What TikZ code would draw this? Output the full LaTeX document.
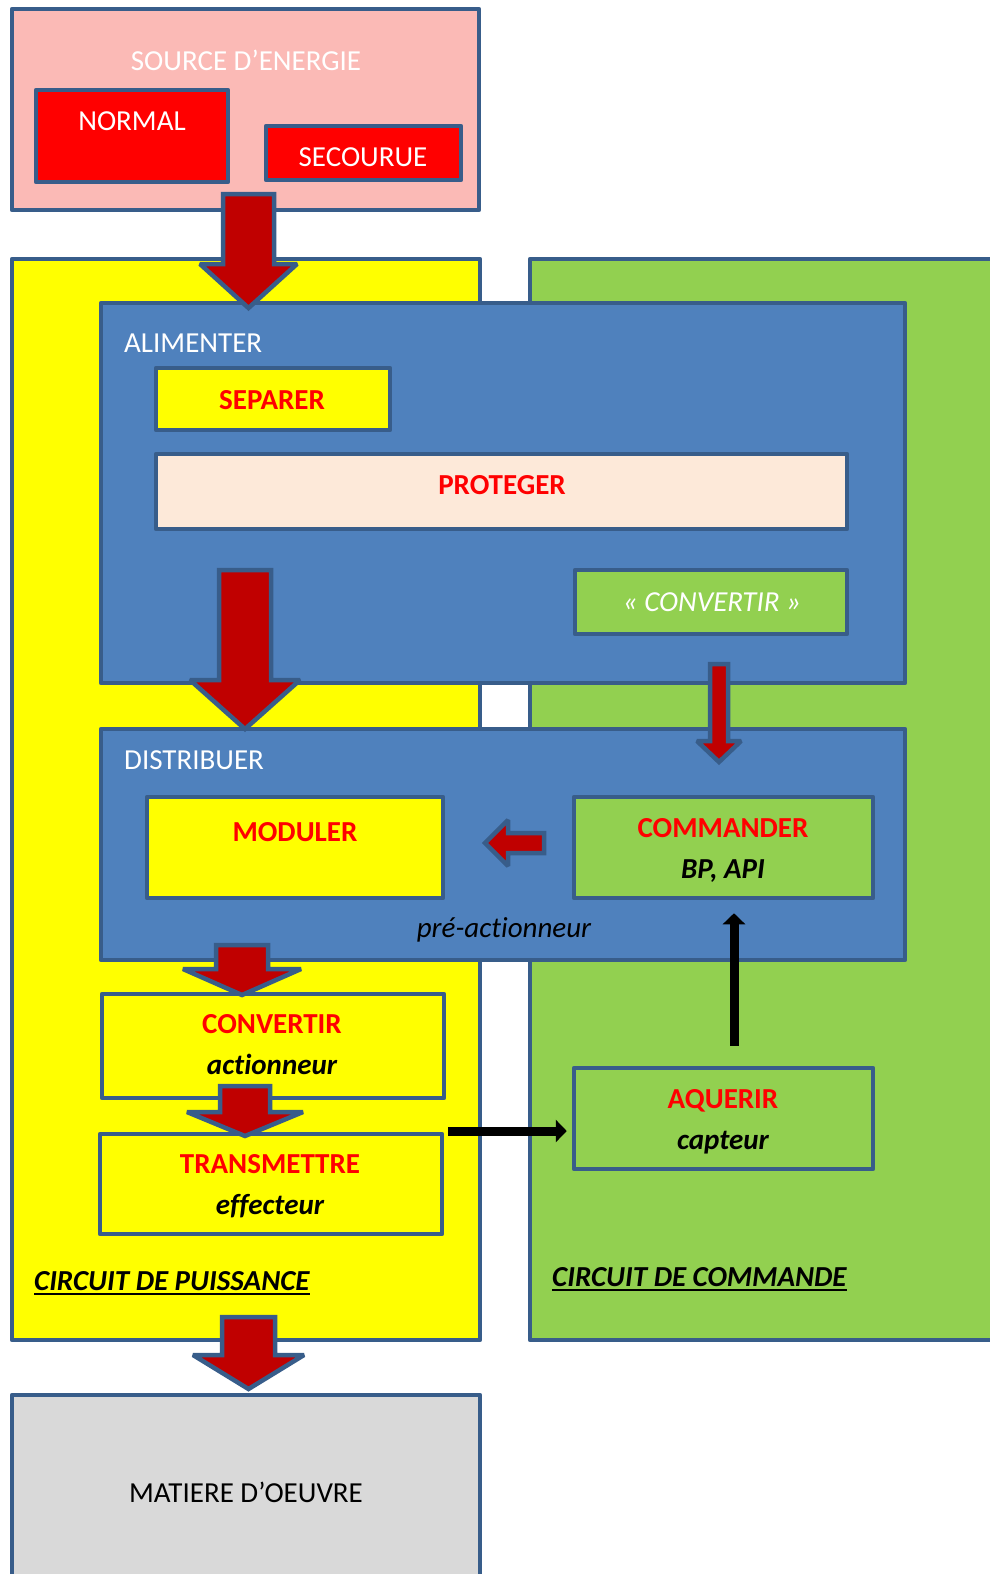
\documentclass[tikz,border=0pt]{standalone}
\usepackage{fontspec}
\setmainfont{Carlito}[Ligatures=NoCommon]
\usetikzlibrary{arrows.meta}

\definecolor{edgeblue}{RGB}{56,93,138}
\definecolor{srcpink}{RGB}{251,186,182}
\definecolor{srcred}{RGB}{255,0,0}
\definecolor{bluebox}{RGB}{79,129,189}
\definecolor{greenbox}{RGB}{146,208,80}
\definecolor{yellowbox}{RGB}{255,255,0}
\definecolor{peach}{RGB}{253,233,217}
\definecolor{arrowred}{RGB}{192,0,0}
\definecolor{greybox}{RGB}{217,217,217}

\begin{document}
\begin{tikzpicture}[x=1pt, y=-1pt,
    box/.style={draw=edgeblue, line width=4.5pt, line join=round, inner sep=0pt},
    txt/.style={inner sep=0pt, anchor=base, font=\fontsize{29}{35}\selectfont},
    whitetxt/.style={txt, text=white},
    redtxt/.style={txt, text=srcred, font=\fontsize{29}{35}\selectfont\bfseries},
    subtxt/.style={txt, font=\fontsize{29}{35}\selectfont\bfseries\itshape},
    bigarrow/.style={fill=arrowred, draw=edgeblue, line width=4.5pt, line join=miter, miter limit=2},
    sig/.style={line width=9pt, -{Triangle[length=11pt, width=22pt]}}]
    \clip (0,0) rectangle (990,1574);

    % Source d'energie
    \node[box, fill=srcpink, minimum width=467, minimum height=201] (source) at (245.5,109.5) {};
    \node[box, fill=srcred, minimum width=192, minimum height=92] (normal) at (132,136) {};
    \node[box, fill=srcred, minimum width=195, minimum height=54] (secours) at (363.5,153) {};
    \node[whitetxt] (t-source) at (246,70) {SOURCE D’ENERGIE};
    \node[whitetxt] (t-normal) at (132,130) {NORMAL};
    \node[whitetxt] (t-secours) at (363,166) {SECOURUE};

    % Circuits
    \node[box, fill=yellowbox, minimum width=468, minimum height=1081] (puissance) at (246,799.5) {};
    \node[box, fill=greenbox, minimum width=480, minimum height=1081] (commande) at (770,799.5) {};

    % Alimenter
    \node[box, fill=bluebox, minimum width=804, minimum height=380] (alimenter) at (503,493) {};
    \node[whitetxt, anchor=base west] (t-alim) at (124,352) {ALIMENTER};
    \node[box, fill=yellowbox, minimum width=234, minimum height=62] (separer) at (273,399) {};
    \node[redtxt] (t-sep) at (272,409) {SEPARER};
    \node[box, fill=peach, minimum width=691, minimum height=75] (proteger) at (501.5,491.5) {};
    \node[redtxt] (t-prot) at (502,494) {PROTEGER};
    \node[box, fill=greenbox, minimum width=272, minimum height=64] (convA) at (711,602) {};
    \node[whitetxt, font=\fontsize{29}{35}\selectfont\itshape] (t-convA) at (712,611) {« CONVERTIR »};

    % Distribuer
    \node[box, fill=bluebox, minimum width=804, minimum height=231] (distribuer) at (503,844.5) {};
    \node[whitetxt, anchor=base west] (t-dist) at (124,769) {DISTRIBUER};
    \node[box, fill=yellowbox, minimum width=296, minimum height=101] (moduler) at (295,847.5) {};
    \node[redtxt] (t-mod) at (295,841) {MODULER};
    \node[box, fill=greenbox, minimum width=299, minimum height=101] (commander) at (723.5,847.5) {};
    \node[redtxt] (t-cmd) at (723,837) {COMMANDER};
    \node[subtxt] (t-bp) at (723,878) {BP, API};
    \node[txt, font=\fontsize{29}{35}\selectfont\itshape] (t-pre) at (504,937) {pré-actionneur};

    % Puissance
    \node[box, fill=yellowbox, minimum width=342, minimum height=104] (convertir) at (273,1046) {};
    \node[redtxt] (t-conv) at (272,1033) {CONVERTIR};
    \node[subtxt] (t-act) at (272,1074) {actionneur};
    \node[box, fill=yellowbox, minimum width=342, minimum height=100] (transmettre) at (271,1184) {};
    \node[redtxt] (t-trans) at (270,1173) {TRANSMETTRE};
    \node[subtxt] (t-eff) at (270,1214) {effecteur};
    \node[subtxt, anchor=base west] (t-cp) at (34,1290) {CIRCUIT DE PUISSANCE};
    \draw[line width=2.5pt] ([yshift=-4pt]t-cp.base west) -- ([yshift=-4pt]t-cp.base east);

    % Commande
    \node[box, fill=greenbox, minimum width=299, minimum height=101] (aquerir) at (723.5,1118.5) {};
    \node[redtxt] (t-aq) at (723,1108) {AQUERIR};
    \node[subtxt] (t-capt) at (723,1149) {capteur};
    \node[subtxt, anchor=base west] (t-cc) at (552,1286) {CIRCUIT DE COMMANDE};
    \draw[line width=2.5pt] ([yshift=-4pt]t-cc.base west) -- ([yshift=-4pt]t-cc.base east);

    % Matiere d'oeuvre
    \node[box, fill=greybox, minimum width=468, minimum height=205] (matiere) at (246,1497.5) {};
    \node[txt] (t-mat) at (246,1502) {MATIERE D’OEUVRE};

    % Energy arrows
    \draw[bigarrow] (223,194) -- (274,194) -- (274,264) -- (297,264) -- (248.5,308) -- (200,264) -- (223,264) -- cycle;
    \draw[bigarrow] (219,570) -- (271,570) -- (271,680) -- (300,680) -- (245,729) -- (190,680) -- (219,680) -- cycle;
    \draw[bigarrow] (710,664) -- (728,664) -- (728,741) -- (741,741) -- (719,762) -- (697,741) -- (710,741) -- cycle;
    \draw[bigarrow] (544,833) -- (544,853) -- (508,853) -- (508,866) -- (485,843) -- (508,820) -- (508,833) -- cycle;
    \draw[bigarrow] (216,945) -- (268,945) -- (268,969) -- (301,969) -- (242,995) -- (183,969) -- (216,969) -- cycle;
    \draw[bigarrow] (220,1086) -- (270,1086) -- (270,1112) -- (303,1112) -- (245,1136) -- (187,1112) -- (220,1112) -- cycle;
    \draw[bigarrow] (222,1317) -- (275,1317) -- (275,1355) -- (304,1355) -- (248.5,1389) -- (193,1355) -- (222,1355) -- cycle;

    % Information arrows
    \draw[sig] ([shift={(4,-53)}]transmettre.east) -- ([shift={(-5,12.5)}]aquerir.west);
    \draw[sig] ([shift={(10.5,-20)}]aquerir.north) -- ([shift={(10.5,13)}]commander.south);
\end{tikzpicture}
\end{document}
